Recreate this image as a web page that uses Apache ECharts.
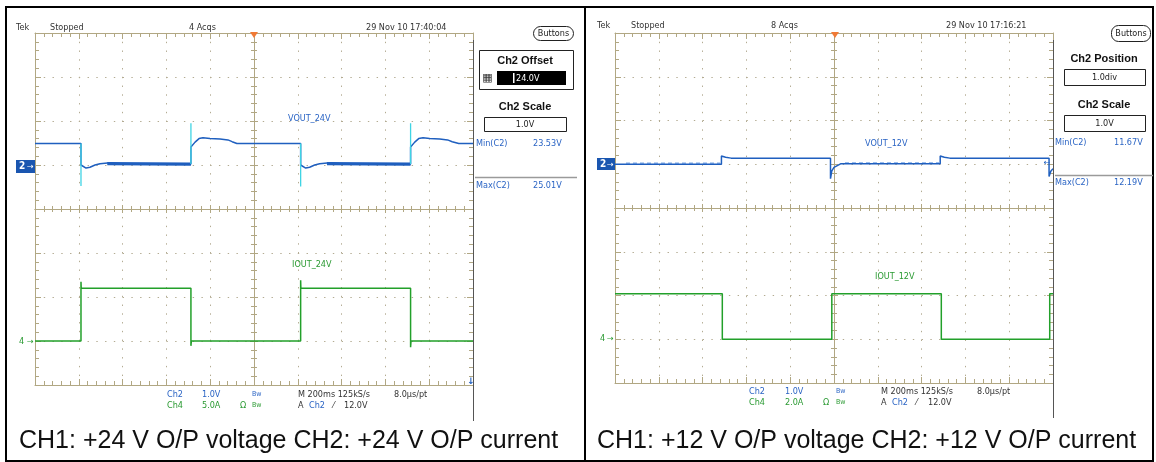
<!DOCTYPE html>
<html>
<head>
<meta charset="utf-8">
<title>+24 V / +12 V O/P transient</title>
<style>
  html, body { margin: 0; padding: 0; background: #fff; }
  #scope { width: 1156px; height: 462px; }
</style>
</head>
<body>
<div id="scope"></div>
<script src="https://cdn.jsdelivr.net/npm/echarts@6/dist/echarts.min.js"></script>
<script type="text/javascript">
// time axis in ms (M 200ms, 10 div), values

// +24 V shot: Ch2 voltage, 1.0 V/div, offset 24.0 V
var v24Time = [0, 210, 210, 219, 233, 251, 274, 297, 342, 388, 479, 571, 662, 712, 712, 731, 749, 767, 799, 845,
               881, 900, 922, 1213, 1213, 1222, 1236, 1254, 1277, 1300, 1345, 1391, 1482, 1574, 1665, 1715, 1715, 1734, 1752, 1772,
               1802, 1848, 1884, 1905, 1935, 2000];
var v24Volt = [24.49, 24.49, 24.00, 23.97, 23.93, 23.95, 24.00, 24.03, 24.05, 24.03, 24.03, 24.02, 24.02, 24.02, 24.41, 24.52, 24.60, 24.62, 24.60, 24.59,
               24.57, 24.53, 24.49, 24.49, 24.00, 23.97, 23.93, 23.95, 24.00, 24.03, 24.05, 24.03, 24.03, 24.02, 24.02, 24.02, 24.41, 24.52, 24.60, 24.62,
               24.60, 24.59, 24.57, 24.53, 24.49, 24.49];
// noisy (thick) part of the low level
var v24BandTime = [330, 712, 1333, 1715];
var v24BandVolt = [24.03, 24.02, 24.03, 24.02];
// cyan spikes on the edges
var v24SpikeTime = [210, 712, 1213, 1715];
var v24SpikeTop = [24.49, 24.95, 24.49, 24.95];
var v24SpikeBottom = [23.52, 24.02, 23.51, 24.02];
// Ch4 current, 5.0 A/div
var i24Time = [0, 210, 210, 211, 712, 712, 714, 1213, 1213, 1214, 1715, 1715, 1717, 2000];
var i24Amp = [0, 0, 6.74, 6.0, 6.0, -0.55, 0, 0, 6.9, 6.0, 6.0, -0.7, 0, 0];

// +12 V shot: Ch2 voltage, 1.0 V/div, position 1.0 div
var v12Time = [0, 486, 486, 495, 505, 530, 984, 984, 990, 1000, 1030, 1485, 1485, 1494, 1504, 1529, 1982, 1982, 1990, 2000];
var v12Volt = [12.00, 12.00, 12.19, 12.18, 12.16, 12.14, 12.14, 11.67, 11.85, 11.93, 12.01, 12.01, 12.19, 12.18, 12.16, 12.14, 12.14, 11.72, 11.84, 11.90];
var v12SpeckTime = [50, 480, 1050, 1480];
var v12SpeckVolt = [12.025, 12.025, 12.03, 12.03];
// Ch4 current, 2.0 A/div
var i12Time = [0, 490, 490, 990, 990, 1490, 1490, 1985, 1985, 2000];
var i12Amp = [2.08, 2.08, 0, 0, 2.08, 2.08, 0, 0, 2.08, 2.08];

var BLUE = '#1f5fbf', TBLUE = '#2a64c4', CYAN = '#3fd4e4', GREEN = '#22a02a', TGREEN = '#2a9a32';
var GRAT = '#b1a783', DOT = '#b3ab92';
var SMALL = '9px "DejaVu Sans Condensed", "Liberation Sans Narrow", sans-serif';
var BOLD = 'bold 11px "Liberation Sans", Arial, sans-serif';

function xy(t, v) {
    return t.map(function (x, i) { return [x, v[i]]; });
}

var grids = [], xAxes = [], yAxes = [], series = [];

function gratAxis(dim, gi, pos, split, inside, onZeroTo) {
    var n = dim === 'x' ? 5 : 4;
    var centre = onZeroTo != null;
    var ax = {
        type: 'value', gridIndex: gi, position: pos, min: -n, max: n, interval: 1, silent: true,
        axisLine: { show: true, onZero: centre, lineStyle: { color: GRAT, width: 1 } },
        axisTick: { show: true, inside: inside, length: centre ? 4 : 6, lineStyle: { color: GRAT } },
        minorTick: { show: true, splitNumber: 5, length: centre ? 3 : 4, lineStyle: { color: GRAT } },
        axisLabel: { show: false },
        splitLine: { show: split, lineStyle: { color: DOT, type: [1.4, 7.36], width: 1 } },
        minorSplitLine: { show: false }
    };
    if (centre) ax.axisLine.onZeroAxisIndex = onZeroTo;
    return ax;
}

// one scope graticule: hidden data axes + 10x8 div graticule
function panel(rect, voltRange, ampRange) {
    var gi = grids.length;
    grids.push({ left: rect[0], top: rect[1], width: rect[2], height: rect[3], show: false });
    var x0 = xAxes.length, y0 = yAxes.length;
    xAxes.push({ type: 'value', gridIndex: gi, min: 0, max: 2000, show: false, axisLine: { onZero: false } });
    yAxes.push({ type: 'value', gridIndex: gi, min: voltRange[0], max: voltRange[1], show: false, axisLine: { onZero: false } });
    yAxes.push({ type: 'value', gridIndex: gi, min: ampRange[0], max: ampRange[1], show: false, axisLine: { onZero: false } });

    xAxes.push(gratAxis('x', gi, 'bottom', true, true));
    xAxes.push(gratAxis('x', gi, 'top', false, true));
    xAxes.push(gratAxis('x', gi, 'bottom', false, true, y0 + 2));
    xAxes.push(gratAxis('x', gi, 'bottom', false, false, y0 + 2));
    yAxes.push(gratAxis('y', gi, 'left', true, true));
    yAxes.push(gratAxis('y', gi, 'right', false, true));
    yAxes.push(gratAxis('y', gi, 'left', false, true, x0 + 1));
    yAxes.push(gratAxis('y', gi, 'left', false, false, x0 + 1));
    return { x: x0, v: y0, a: y0 + 1 };
}

function trace(ax, yIdx, data, color, width, extra) {
    var s = {
        type: 'line', xAxisIndex: ax.x, yAxisIndex: yIdx, data: data, symbol: 'none',
        lineStyle: { color: color, width: width }, silent: true, z: 5, animation: false
    };
    if (extra) for (var k in extra) s[k] = extra[k];
    return s;
}

var left = panel([35, 33, 438, 352], [19, 27], [-5, 35]);
var right = panel([615, 33, 438, 350], [7, 15], [-2, 14]);

// +24 V
series.push(trace(left, left.a, xy(i24Time, i24Amp), GREEN, 1.5));
series.push(trace(left, left.v, xy(v24Time, v24Volt), BLUE, 1.5));
for (var i = 0; i < v24BandTime.length; i += 2) {
    series.push(trace(left, left.v, xy(v24BandTime.slice(i, i + 2), v24BandVolt.slice(i, i + 2)), BLUE, 3.2, { z: 4 }));
}
for (var i = 0; i < v24SpikeTime.length; i++) {
    series.push(trace(left, left.v, [[v24SpikeTime[i], v24SpikeTop[i]], [v24SpikeTime[i], v24SpikeBottom[i]]], CYAN, 1.3, { z: 6 }));
}
// +12 V
series.push(trace(right, right.a, xy(i12Time, i12Amp), GREEN, 1.5));
series.push(trace(right, right.v, xy(v12Time, v12Volt), BLUE, 1.5));
for (var i = 0; i < v12SpeckTime.length; i += 2) {
    series.push(trace(right, right.v, xy(v12SpeckTime.slice(i, i + 2), v12SpeckVolt.slice(i, i + 2)), '#7aa7e6', 1.2,
        { z: 4, lineStyle: { color: '#7aa7e6', width: 1.2, type: [4, 3] } }));
}

// ---- scope screen furniture (text, menus, markers) ----
var g = [];
function t(x, y, s, fill, opt) {
    opt = opt || {};
    g.push({
        type: 'text', x: x, y: y, silent: true, z: 20,
        style: {
            text: s, fill: fill || '#333', font: opt.font || SMALL,
            align: opt.align || 'left', textAlign: opt.align || 'left',
            verticalAlign: 'middle', textVerticalAlign: 'middle'
        }
    });
}
function box(x1, y1, x2, y2, stroke, fill, r) {
    g.push({
        type: 'rect', silent: true, z: 15,
        shape: { x: x1, y: y1, width: x2 - x1, height: y2 - y1, r: r || 0 },
        style: { stroke: stroke || 'none', fill: fill || 'none', lineWidth: 1 }
    });
}
function line(x1, y1, x2, y2, color, w) {
    g.push({
        type: 'line', silent: true, z: 15,
        shape: { x1: x1, y1: y1, x2: x2, y2: y2 },
        style: { stroke: color, lineWidth: w || 1 }
    });
}
function trig(cx) {
    g.push({
        type: 'polygon', silent: true, z: 25,
        shape: { points: [[cx - 4, 32], [cx + 4, 32], [cx, 38]] },
        style: { fill: '#f07a36' }
    });
}

// outer frame and divider
box(6, 7, 1153, 461, '#000');
g[g.length - 1].style.lineWidth = 2;
line(585, 7, 585, 461, '#000', 2);

// left shot
t(16, 28, 'Tek'); t(50, 28, 'Stopped'); t(189, 28, '4 Acqs'); t(366, 28, '29 Nov 10 17:40:04');
box(533.5, 26.5, 573.5, 40.5, '#222', '#fff', 7); t(553.5, 33.5, 'Buttons', '#222', { align: 'center' });
box(479.5, 50.5, 573.5, 89.5, '#222');
t(525, 61, 'Ch2 Offset', '#111', { font: BOLD, align: 'center' });
t(487.5, 78.5, '\u25a6', '#333', { font: '11px "DejaVu Sans", sans-serif', align: 'center' });
box(497, 71, 566, 85, null, '#000');
box(513, 73, 514.5, 83, null, '#fff');
t(516, 78.5, '24.0V', '#fff');
t(525, 107, 'Ch2 Scale', '#111', { font: BOLD, align: 'center' });
box(484.5, 117.5, 566.5, 131.5, '#222'); t(525, 124.5, '1.0V', '#222', { align: 'center' });
t(476, 144, 'Min(C2)', TBLUE); t(533, 144, '23.53V', TBLUE);
line(475, 177.5, 577, 177.5, '#9a9a9a', 1.5);
t(476, 186, 'Max(C2)', TBLUE); t(533, 186, '25.01V', TBLUE);
line(473.5, 40, 473.5, 421, '#555', 1);
t(288, 119, 'VOUT_24V', TBLUE); t(292, 265, 'IOUT_24V', TGREEN);
box(16, 160, 35, 173, null, '#1a56b0');
t(19, 166.5, '2', '#fff', { font: 'bold 10px "DejaVu Sans Condensed", sans-serif' });
t(27, 166.5, '\u2192', '#fff', { font: '8px "DejaVu Sans", sans-serif' });
t(19, 342, '4', TGREEN); t(27, 342, '\u2192', TGREEN, { font: '8px "DejaVu Sans", sans-serif' });
trig(254);
t(471, 382, '\u2193', BLUE, { font: 'bold 9px "DejaVu Sans", sans-serif', align: 'center' });
t(167, 395, 'Ch2', TBLUE); t(202, 395, '1.0V', TBLUE); t(252, 394, 'Bw', TBLUE, { font: '7px "DejaVu Sans Condensed", sans-serif' });
t(298, 395, 'M 200ms 125kS/s'); t(394, 395, '8.0\u00b5s/pt');
t(167, 406, 'Ch4', TGREEN); t(202, 406, '5.0A', TGREEN); t(240, 406, '\u03a9', TGREEN);
t(252, 405, 'Bw', TGREEN, { font: '7px "DejaVu Sans Condensed", sans-serif' });
t(298, 406, 'A'); t(309, 406, 'Ch2', TBLUE); t(333, 406, '\u2044'); t(344, 406, '12.0V');

// right shot
t(597, 26, 'Tek'); t(631, 26, 'Stopped'); t(771, 26, '8 Acqs'); t(946, 26, '29 Nov 10 17:16:21');
box(1111.5, 25.5, 1150.5, 41.5, '#222', '#fff', 7); t(1131, 33.5, 'Buttons', '#222', { align: 'center' });
t(1104, 59, 'Ch2 Position', '#111', { font: BOLD, align: 'center' });
box(1064.5, 69.5, 1145.5, 85.5, '#222'); t(1104.5, 77.5, '1.0div', '#222', { align: 'center' });
t(1104, 105, 'Ch2 Scale', '#111', { font: BOLD, align: 'center' });
box(1064.5, 115.5, 1145.5, 131.5, '#222'); t(1104.5, 123.5, '1.0V', '#222', { align: 'center' });
t(1055, 143, 'Min(C2)', TBLUE); t(1114, 143, '11.67V', TBLUE);
line(1055, 175.5, 1153, 175.5, '#9a9a9a', 1.5);
t(1055, 183, 'Max(C2)', TBLUE); t(1114, 183, '12.19V', TBLUE);
line(1053.5, 40, 1053.5, 418, '#555', 1);
t(865, 144, 'VOUT_12V', TBLUE); t(875, 277, 'IOUT_12V', TGREEN);
box(597, 158, 615, 170, null, '#1a56b0');
t(600, 164.5, '2', '#fff', { font: 'bold 10px "DejaVu Sans Condensed", sans-serif' });
t(607, 164.5, '\u2192', '#fff', { font: '8px "DejaVu Sans", sans-serif' });
t(600, 339, '4', TGREEN); t(607, 339, '\u2192', TGREEN, { font: '8px "DejaVu Sans", sans-serif' });
trig(835);
t(1047, 163, '\u2190', BLUE, { font: '8px "DejaVu Sans", sans-serif', align: 'center' });
t(749, 392, 'Ch2', TBLUE); t(785, 392, '1.0V', TBLUE); t(836, 391, 'Bw', TBLUE, { font: '7px "DejaVu Sans Condensed", sans-serif' });
t(881, 392, 'M 200ms 125kS/s'); t(977, 392, '8.0\u00b5s/pt');
t(749, 403, 'Ch4', TGREEN); t(785, 403, '2.0A', TGREEN); t(823, 403, '\u03a9', TGREEN);
t(836, 402, 'Bw', TGREEN, { font: '7px "DejaVu Sans Condensed", sans-serif' });
t(881, 403, 'A'); t(892, 403, 'Ch2', TBLUE); t(916, 403, '\u2044'); t(928, 403, '12.0V');

// captions under the shots
t(19, 441, 'CH1: +24 V O/P voltage CH2: +24 V O/P current', '#111', { font: '25px "Liberation Sans", Arial, sans-serif' });
t(597, 441, 'CH1: +12 V O/P voltage CH2: +12 V O/P current', '#111', { font: '25px "Liberation Sans", Arial, sans-serif' });

var myChart = echarts.init(document.getElementById('scope'));
myChart.setOption({
    animation: false,
    backgroundColor: '#fff',
    grid: grids,
    xAxis: xAxes,
    yAxis: yAxes,
    series: series,
    graphic: { elements: g }
});
</script>
</body>
</html>
